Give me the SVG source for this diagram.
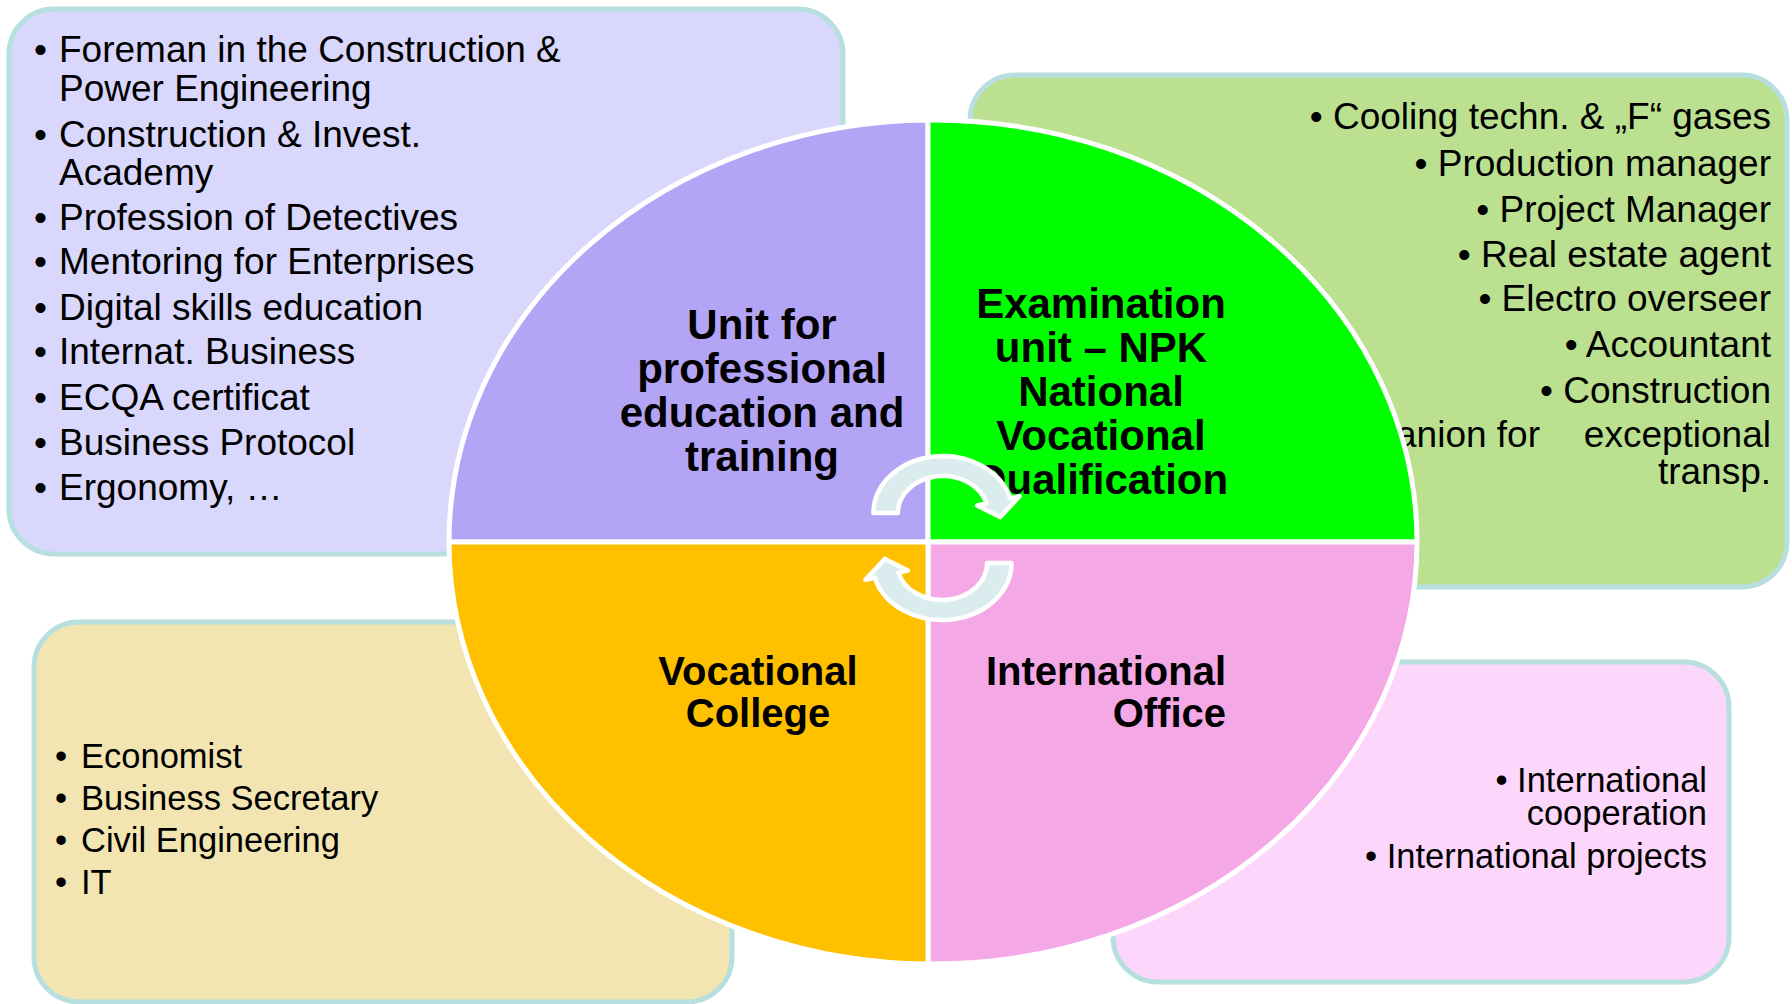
<svg xmlns="http://www.w3.org/2000/svg" width="1792" height="1004" viewBox="0 0 1792 1004">
<style>
.box{stroke:#b8dfe0;stroke-width:5}
.t{font-family:"Liberation Sans",Arial,sans-serif;fill:#000}
.r37{font-size:37px}
.r34{font-size:34.5px}
.b42{font-size:42px;font-weight:bold}
.b40{font-size:40px;font-weight:bold}
.q{stroke:#fff;stroke-width:5;stroke-linejoin:round}
.arr{fill:#daeced;stroke:#fff;stroke-width:4.5;stroke-linejoin:round;vector-effect:non-scaling-stroke}
</style>
<rect width="1792" height="1004" fill="#fff"/>

<g id="box-training">
<rect class="box" x="9" y="9" width="834" height="545" rx="45" fill="#d9d7fb"/>
<g class="t r37">
<text x="34" y="62">•<tspan x="59">Foreman in the Construction &amp;</tspan></text>
<text x="59" y="101">Power Engineering</text>
<text x="34" y="147">•<tspan x="59">Construction &amp; Invest.</tspan></text>
<text x="59" y="185">Academy</text>
<text x="34" y="230">•<tspan x="59">Profession of Detectives</tspan></text>
<text x="34" y="274">•<tspan x="59">Mentoring for Enterprises</tspan></text>
<text x="34" y="320">•<tspan x="59">Digital skills education</tspan></text>
<text x="34" y="364">•<tspan x="59">Internat. Business</tspan></text>
<text x="34" y="410">•<tspan x="59">ECQA certificat</tspan></text>
<text x="34" y="455">•<tspan x="59">Business Protocol</tspan></text>
<text x="34" y="500">•<tspan x="59">Ergonomy, …</tspan></text>
</g>
</g>

<g id="box-exam">
<rect class="box" x="970" y="75" width="817" height="512" rx="45" fill="#bbe08f"/>
<g class="t r37" text-anchor="end">
<text x="1771" y="129">• Cooling techn. &amp; „F“ gases</text>
<text x="1771" y="176">• Production manager</text>
<text x="1771" y="222">• Project Manager</text>
<text x="1771" y="267">• Real estate agent</text>
<text x="1771" y="311">• Electro overseer</text>
<text x="1771" y="357">• Accountant</text>
<text x="1771" y="403">• Construction</text>
<text x="1540" y="447">anion for</text>
<text x="1771" y="447">exceptional</text>
<text x="1771" y="484">transp.</text>
</g>
</g>

<g id="box-college">
<rect class="box" x="34" y="622" width="698" height="380" rx="45" fill="#f2e5b2"/>
<g class="t r34">
<text x="55" y="768">•<tspan x="81">Economist</tspan></text>
<text x="55" y="810">•<tspan x="81">Business Secretary</tspan></text>
<text x="55" y="852">•<tspan x="81">Civil Engineering</tspan></text>
<text x="55" y="894">•<tspan x="81">IT</tspan></text>
</g>
</g>

<g id="box-international">
<rect class="box" x="1113" y="662" width="616" height="320" rx="45" fill="#fdd6fb"/>
<g class="t r34" text-anchor="end">
<text x="1707" y="792">• International</text>
<text x="1707" y="825">cooperation</text>
<text x="1707" y="868">• International projects</text>
</g>
</g>

<g id="quadrant-training">
<path class="q" d="M928,542 L449,542 A484,422 0 0 1 928,120 Z" fill="#b3a4f5"/>
<g class="t b42" text-anchor="middle">
<text x="762" y="339">Unit for</text>
<text x="762" y="383">professional</text>
<text x="762" y="427">education and</text>
<text x="762" y="471">training</text>
</g>
</g>

<g id="quadrant-exam">
<path class="q" d="M928,542 L928,120 A484,422 0 0 1 1417,542 Z" fill="#00ff00"/>
<g class="t b42" text-anchor="middle">
<text x="1101" y="318">Examination</text>
<text x="1101" y="362">unit – NPK</text>
<text x="1101" y="406">National</text>
<text x="1101" y="450">Vocational</text>
<text x="1101" y="494">Qualification</text>
</g>
</g>

<g id="quadrant-international">
<path class="q" d="M928,542 L1417,542 A484,422 0 0 1 928,964 Z" fill="#f5a8e6"/>
<g class="t b40" text-anchor="end">
<text x="1226" y="685">International</text>
<text x="1226" y="727">Office</text>
</g>
</g>

<g id="quadrant-college">
<path class="q" d="M928,542 L928,964 A484,422 0 0 1 449,542 Z" fill="#ffc000"/>
<g class="t b40" text-anchor="middle">
<text x="758" y="685">Vocational</text>
<text x="758" y="727">College</text>
</g>
</g>

<g id="connectors">
<path class="arr" transform="translate(943,513) scale(1.22,1)" d="M-57,0 A57,57 0 0 1 55.06,-14.75 L62.8,-16.8 L46.8,4.1 L28,-7.5 L35.74,-9.58 A37,37 0 0 0 -37,0 Z"/>
<path class="arr" transform="rotate(180 942.5 538) translate(943,513) scale(1.22,1)" d="M-57,0 A57,57 0 0 1 55.06,-14.75 L62.8,-16.8 L46.8,4.1 L28,-7.5 L35.74,-9.58 A37,37 0 0 0 -37,0 Z"/>
</g>
</svg>
